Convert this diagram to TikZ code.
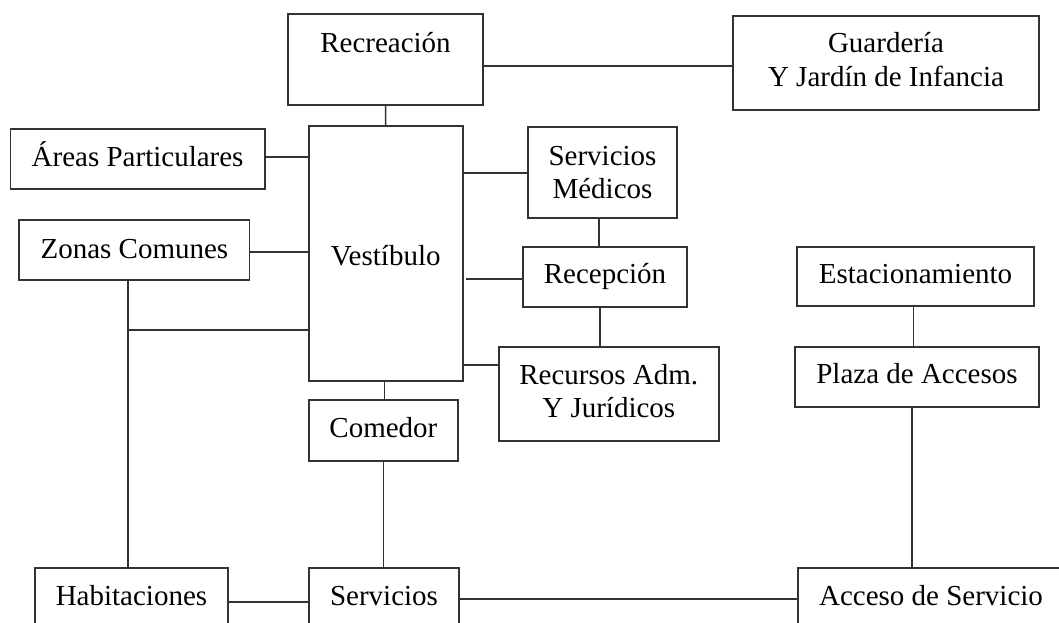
\documentclass[tikz,border=0pt]{standalone}
\usepackage{fontspec}
\setmainfont{Liberation Serif}
\begin{document}
\begin{tikzpicture}[x=1pt,y=-1pt,
  box/.style={draw=black!80,line width=1.8pt,rectangle,inner sep=0pt},
  txt/.style={anchor=base,inner sep=0pt,font=\fontsize{29}{33.5}\selectfont},
  conn/.style={draw=black!80,line width=1.5pt}]
\useasboundingbox (0,0) rectangle (1059,623);
% boxes: centre, width, height
\newcommand{\bx}[5]{\node[box,minimum width=#4pt,minimum height=#5pt] (#1) at (#2,#3) {};}
\bx{rec}{385.5}{59.5}{195}{91}
\bx{gua}{886}{63}{306}{94}
\bx{are}{137.6}{159}{254.2}{60}
\bx{ves}{385.75}{253.5}{154}{255}
\bx{med}{602.5}{172.5}{149}{91}
\bx{zon}{134.4}{250}{230.2}{60}
\bx{recp}{605}{277}{164}{60}
\bx{est}{915.5}{276.5}{237}{59}
\bx{recu}{608.8}{394}{220.4}{94}
\bx{pla}{917}{377}{244}{60}
\bx{com}{383.4}{430.5}{149.4}{61}
\bx{hab}{131.5}{598}{193}{60}
\bx{ser}{384}{598}{150}{60}
\bx{acc}{932}{598}{268.6}{60}
% texts
\node[txt] (rect) at (385.5,53) {Recreación};
\node[txt] (guat1) at (886,53) {Guardería};
\node[txt] (guat2) at (886,87) {Y Jardín de Infancia};
\node[txt] (aret) at (137.6,166) {Áreas Particulares};
\node[txt] (medt1) at (602.5,165) {Servicios};
\node[txt] (medt2) at (602.5,198.5) {Médicos};
\node[txt] (zont) at (134.4,258) {Zonas Comunes};
\node[txt] (vest) at (385.75,265) {Vestíbulo};
\node[txt] (recpt) at (605,283.5) {Recepción};
\node[txt] (estt) at (915.5,283.5) {Estacionamiento};
\node[txt] (recut1) at (608.8,384) {Recursos Adm.};
\node[txt] (recut2) at (608.8,417.5) {Y Jurídicos};
\node[txt] (plat) at (917,383.5) {Plaza de Accesos};
\node[txt] (comt) at (383.4,437.5) {Comedor};
\node[txt] (habt) at (131.5,605) {Habitaciones};
\node[txt] (sert) at (384,605) {Servicios};
\node[txt] (acct) at (931,605) {Acceso de Servicio};
% connectors
\coordinate (rj) at (466,279);
\draw[conn] (rec.east |- 0,66) -- (gua.west |- 0,66);
\draw[conn] (rec.south) -- (ves.north);
\draw[conn] (are.east |- 0,157) -- (ves.west |- 0,157);
\draw[conn] (zon.east |- 0,252) -- (ves.west |- 0,252);
\draw[conn] (ves.east |- 0,173) -- (med.west |- 0,173);
\draw[conn] (rj) -- (recp.west |- rj);
\draw[conn] (ves.east |- 0,365) -- (recu.west |- 0,365);
\draw[conn] (med.south -| 599,0) -- (recp.north -| 599,0);
\draw[conn] (recp.south -| 600,0) -- (recu.north -| 600,0);
\draw[conn] (est.south -| 913.5,0) -- (pla.north -| 913.5,0);
\draw[conn] (pla.south -| 912,0) -- (acc.north -| 912,0);
\draw[conn] (ves.south -| 384.7,0) -- (com.north -| 384.7,0);
\draw[conn] (com.south) -- (ser.north -| com.south);
\draw[conn] (zon.south -| 127.8,0) -- (hab.north -| 127.8,0);
\draw[conn] (127.8,330) -- (ves.west |- 0,330);
\draw[conn] (hab.east |- 0,602) -- (ser.west |- 0,602);
\draw[conn] (ser.east |- 0,599) -- (acc.west |- 0,599);
\end{tikzpicture}
\end{document}
